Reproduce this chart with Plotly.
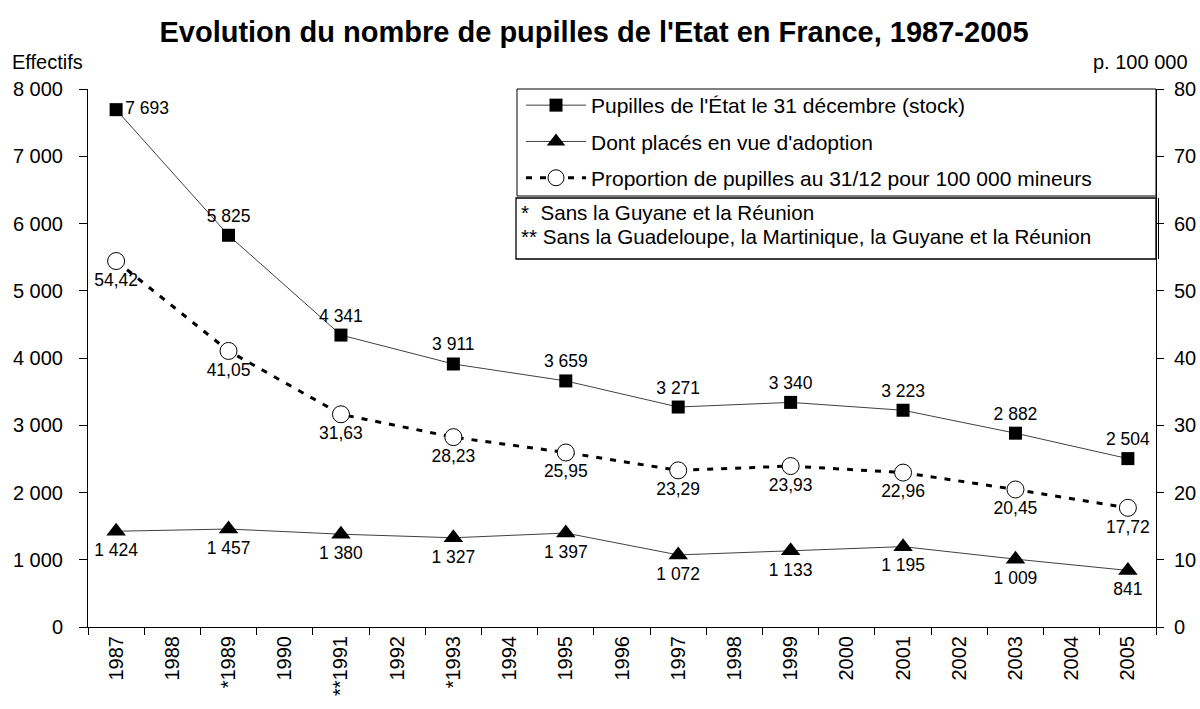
import plotly.graph_objects as go

# ---- data ----
all_years = [str(y) for y in range(1987, 2006)]
tick_labels = ["1987", "1988", "*1989", "1990", "**1991", "1992", "*1993", "1994", "1995", "1996",
               "1997", "1998", "1999", "2000", "2001", "2002", "2003", "2004", "2005"]
data_years = ["1987", "1989", "1991", "1993", "1995", "1997", "1999", "2001", "2003", "2005"]
stock = [7693, 5825, 4341, 3911, 3659, 3271, 3340, 3223, 2882, 2504]
adoption = [1424, 1457, 1380, 1327, 1397, 1072, 1133, 1195, 1009, 841]
proportion = [54.42, 41.05, 31.63, 28.23, 25.95, 23.29, 23.93, 22.96, 20.45, 17.72]
left_ticks = [0, 1000, 2000, 3000, 4000, 5000, 6000, 7000, 8000]
right_ticks = [0, 10, 20, 30, 40, 50, 60, 70, 80]

label_of = dict(zip(all_years, tick_labels))
x_cat = [label_of[y] for y in data_years]

def fmt_int(v):
    return f"{v:,}".replace(",", " ")

def fmt_dec(v):
    return f"{v:.2f}".replace(".", ",")

FONT = "Liberation Sans, Arial, sans-serif"
LBL = 17.5

fig = go.Figure()

fig.add_trace(go.Scatter(
    x=x_cat, y=stock, name="Pupilles de l'État le 31 décembre (stock)",
    legendgroup="a",
    mode="lines+markers+text",
    line=dict(color="#404040", width=1),
    marker=dict(symbol="square", size=13, color="black"),
    text=[fmt_int(v) for v in stock],
    textposition=["middle right"] + ["top center"] * (len(stock) - 1),
    textfont=dict(size=LBL, color="black", family=FONT),
    yaxis="y",
))
fig.add_trace(go.Scatter(
    x=x_cat, y=adoption, name="Dont placés en vue d'adoption",
    legendgroup="b",
    mode="lines+markers+text",
    line=dict(color="#404040", width=1),
    marker=dict(symbol="triangle-up", size=17, color="black"),
    text=[fmt_int(v) for v in adoption],
    textposition="bottom center",
    textfont=dict(size=LBL, color="black", family=FONT),
    yaxis="y",
))
fig.add_trace(go.Scatter(
    x=x_cat, y=proportion, name="Proportion de pupilles au 31/12 pour 100 000 mineurs",
    legendgroup="c",
    mode="lines+markers+text",
    line=dict(color="black", width=3, dash="6px,8px"),
    marker=dict(symbol="circle", size=17, color="white", line=dict(color="black", width=1)),
    text=[fmt_dec(v) for v in proportion],
    textposition="bottom center",
    textfont=dict(size=LBL, color="black", family=FONT),
    yaxis="y2",
))

L, R, T, B = 88, 1156, 89, 627
W, H = 1200, 709
pw, ph = R - L, B - T

def px(xp):
    return (xp - L) / pw

def py(yp):
    return (B - yp) / ph

shapes = [
    # legend box
    dict(type="rect", xref="paper", yref="paper", x0=px(517), x1=px(1156), y0=py(196), y1=py(89),
         line=dict(color="black", width=1), fillcolor="white", layer="below"),
    # footnote box (double border on the right)
    dict(type="rect", xref="paper", yref="paper", x0=px(516), x1=px(1156), y0=py(259), y1=py(198),
         line=dict(color="black", width=1.3)),
    dict(type="line", xref="paper", yref="paper", x0=px(1158.5), x1=px(1158.5), y0=py(259), y1=py(198),
         line=dict(color="black", width=1)),
]

annotations = [
    dict(text="Effectifs", xref="paper", yref="paper", x=px(10), y=py(62), xanchor="left", yanchor="middle",
         showarrow=False, font=dict(size=20, family=FONT, color="black")),
    dict(text="p. 100 000", xref="paper", yref="paper", x=px(1190), y=py(62), xanchor="right", yanchor="middle",
         showarrow=False, font=dict(size=20, family=FONT, color="black")),
    dict(text="*  Sans la Guyane et la Réunion", xref="paper", yref="paper", x=px(519), y=py(212),
         xanchor="left", yanchor="middle", showarrow=False, font=dict(size=20.6, family=FONT, color="black")),
    dict(text="** Sans la Guadeloupe, la Martinique, la Guyane et la Réunion", xref="paper", yref="paper",
         x=px(519), y=py(236), xanchor="left", yanchor="middle", showarrow=False,
         font=dict(size=20.6, family=FONT, color="black")),
]

fig.update_layout(
    width=W, height=H,
    margin=dict(l=L, r=W - R, t=T, b=H - B, autoexpand=False),
    paper_bgcolor="white", plot_bgcolor="white",
    font=dict(family=FONT, color="black"),
    title=dict(text="<b>Evolution du nombre de pupilles de l'Etat en France, 1987-2005</b>",
               x=594 / W, xanchor="center", y=1 - 32 / H, yanchor="middle",
               font=dict(size=29, family=FONT, color="black")),
    xaxis=dict(type="category", categoryorder="array", categoryarray=tick_labels,
               range=[-0.5, len(tick_labels) - 0.5], automargin=False,
               tickson="boundaries", ticks="outside", ticklen=7, tickcolor="black",
               tickangle=-90, showline=True, linecolor="black", linewidth=1,
               showgrid=False, zeroline=False, tickfont=dict(size=20, family=FONT)),
    yaxis=dict(range=[0, 8000], tickvals=left_ticks, ticktext=[fmt_int(v) for v in left_ticks],
               ticks="outside", ticklen=8, tickcolor="black", showline=True, linecolor="black",
               linewidth=1, showgrid=False, zeroline=False, automargin=False,
               ticklabelstandoff=12, tickfont=dict(size=20, family=FONT)),
    yaxis2=dict(range=[0, 80], tickvals=right_ticks, overlaying="y", side="right",
                ticks="outside", ticklen=7, tickcolor="black", showline=True, linecolor="black",
                linewidth=1, showgrid=False, zeroline=False, automargin=False,
                ticklabelstandoff=6, tickfont=dict(size=20, family=FONT)),
    legend=dict(x=px(521), xanchor="left", y=py(85), yanchor="top", bgcolor="rgba(0,0,0,0)",
                borderwidth=0, font=dict(size=21, family=FONT),
                itemwidth=60, tracegroupgap=6),
    shapes=shapes,
    annotations=annotations,
    showlegend=True,
)

fig.write_html("out.html", config={"displayModeBar": False},
               post_script="document.body.style.margin='0';document.body.style.padding='0';")
